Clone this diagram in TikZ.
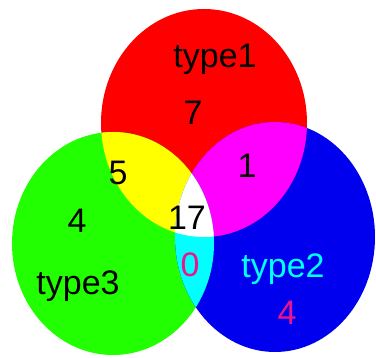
\documentclass[tikz,border=0pt]{standalone}
\usepackage{fontspec}
\setmainfont{Liberation Sans}
\definecolor{cred}{RGB}{255,0,0}
\definecolor{cgreen}{RGB}{34,255,0}
\definecolor{cblue}{RGB}{0,0,238}
\definecolor{cyel}{RGB}{255,255,0}
\definecolor{cmag}{RGB}{255,0,255}
\definecolor{ccyan}{RGB}{0,255,255}
\definecolor{cpink}{RGB}{235,20,140}
\begin{document}
\begin{tikzpicture}[x=1pt,y=1pt,
  lbl/.style={anchor=base,inner sep=0pt,font=\fontsize{34}{40}\selectfont}]
\useasboundingbox (0,0) rectangle (376,358);
\def\redE{(204,235) ellipse [x radius=103, y radius=114]}
\def\greenE{(113,114.5) ellipse [x radius=101, y radius=111.5]}
\def\blueE{(275,121) ellipse [x radius=100, y radius=115]}
\fill[cred] \redE;
\fill[cgreen] \greenE;
\fill[cblue] \blueE;
\begin{scope}\clip \redE; \fill[cyel] \greenE; \end{scope}
\begin{scope}\clip \redE; \fill[cmag] \blueE; \end{scope}
\begin{scope}\clip \greenE; \fill[ccyan] \blueE; \end{scope}
\begin{scope}\clip \redE; \clip \greenE; \fill[white] \blueE; \end{scope}
\node[lbl] (t1) at (215,290) {type1};
\node[lbl] (n7) at (193,233) {7};
\node[lbl] (n5) at (118,173) {5};
\node[lbl] (n1) at (247,180) {1};
\node[lbl] (n17) at (187,128) {17};
\node[lbl] (n4a) at (77,125) {4};
\node[lbl,text=cpink] (n0) at (190,81) {0};
\node[lbl,text=ccyan] (t2) at (283,80) {type2};
\node[lbl] (t3) at (78,63) {type3};
\node[lbl,text=cpink] (n4b) at (287,33) {4};
\end{tikzpicture}
\end{document}
